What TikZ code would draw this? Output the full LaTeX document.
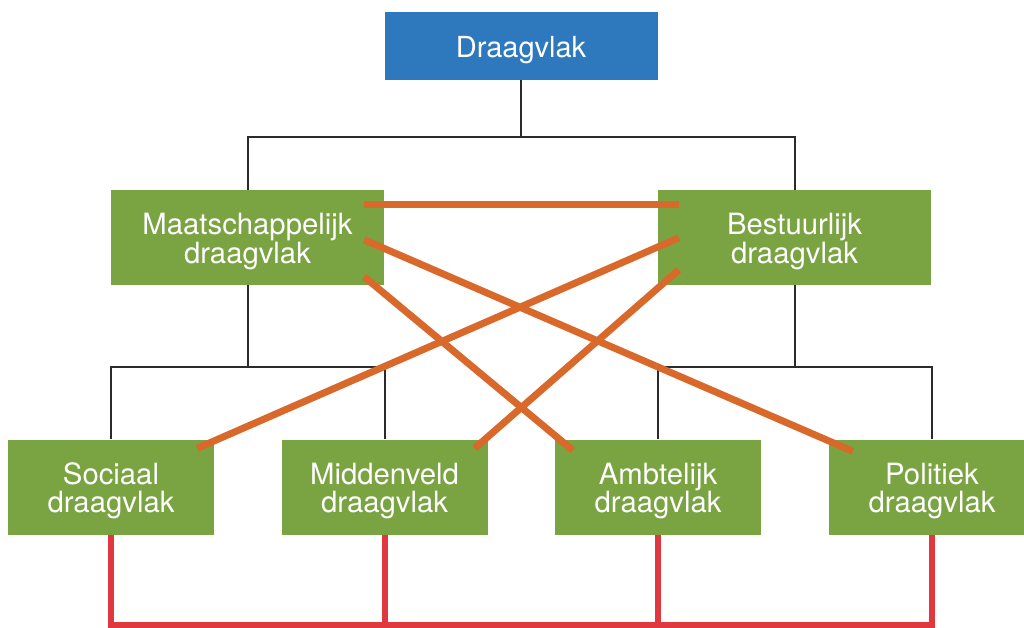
\documentclass[tikz,border=0pt]{standalone}
\usepackage{fontspec}
\setmainfont{TeX Gyre Heros}
\usetikzlibrary{calc}
\definecolor{topblue}{HTML}{2E78BD}
\definecolor{boxgreen}{HTML}{7AA342}
\definecolor{linkorange}{HTML}{D9682B}
\definecolor{basered}{HTML}{E0383E}
\definecolor{treegray}{HTML}{2B2B2B}
\newcommand{\lowerstrut}{\rule{0pt}{29pt}}
\begin{document}
\begin{tikzpicture}[x=1pt,y=-1pt,
  topbox/.style={fill=topblue,text=white,inner sep=0pt,minimum width=273pt,minimum height=68pt,
    font=\fontsize{29}{29}\selectfont,align=center},
  greenbox/.style={fill=boxgreen,text=white,inner sep=0pt,minimum height=95pt,
    font=\fontsize{29.3}{28.5}\selectfont,align=center},
  midbox/.style={greenbox,minimum width=273pt},
  lowbox/.style={greenbox,minimum width=206pt},
  tree/.style={draw=treegray,line width=2pt},
  redlink/.style={draw=basered,line width=6pt,line join=miter},
  orangelink/.style={draw=linkorange,line width=7pt}]
\useasboundingbox (0,0) rectangle (1024,628);
\clip (0,0) rectangle (1024,628);
\fill[white] (0,0) rectangle (1024,628);

\coordinate (j0) at (521,137);
\coordinate (j1) at (247.5,367);
\coordinate (j2) at (794.5,367);
\coordinate (rb) at (0,625);

\path
  (521,46) node[topbox] (top) {\lowerstrut Draagvlak}
  (247.5,237.5) node[midbox] (maat) {\lowerstrut Maatschappelijk\\draagvlak}
  (794.5,237.5) node[midbox] (best) {\lowerstrut Bestuurlijk\\draagvlak}
  (111,487) node[lowbox] (soc) {\lowerstrut Sociaal\\draagvlak}
  (384.5,487) node[lowbox] (mid) {\lowerstrut Middenveld\\draagvlak}
  (658,487) node[lowbox] (amb) {\lowerstrut Ambtelijk\\draagvlak}
  (932,487) node[lowbox] (pol) {\lowerstrut Politiek\\draagvlak};

% tree connectors
\draw[tree] (top.south) -- (j0);
\draw[tree] (maat.north) |- (j0) -| (best.north);
\draw[tree] (maat.south) -- (j1);
\draw[tree] (soc.north) |- (j1) -| (mid.north);
\draw[tree] (best.south) -- (j2);
\draw[tree] (amb.north) |- (j2) -| (pol.north);

% red base connectors
\draw[redlink] (soc.south) -- (soc.south |- rb) -- (pol.south |- rb) -- (pol.south);
\draw[redlink] (mid.south) -- (mid.south |- rb);
\draw[redlink] (amb.south) -- (amb.south |- rb);

% redraw boxes on top of connectors
\path
  (521,46) node[topbox] {\lowerstrut Draagvlak}
  (247.5,237.5) node[midbox] {\lowerstrut Maatschappelijk\\draagvlak}
  (794.5,237.5) node[midbox] {\lowerstrut Bestuurlijk\\draagvlak}
  (111,487) node[lowbox] {\lowerstrut Sociaal\\draagvlak}
  (384.5,487) node[lowbox] {\lowerstrut Middenveld\\draagvlak}
  (658,487) node[lowbox] {\lowerstrut Ambtelijk\\draagvlak}
  (932,487) node[lowbox] {\lowerstrut Politiek\\draagvlak};

% orange cross links
\coordinate (m1) at ($(maat.north east)+(-20,15)$);
\coordinate (m2) at ($(maat.north east)+(-20,50)$);
\coordinate (m3) at ($(maat.north east)+(-20,87)$);
\coordinate (b1) at ($(best.north west)+(21,15)$);
\coordinate (b2) at ($(best.north west)+(21,48)$);
\coordinate (b3) at ($(best.north west)+(21,80)$);
\coordinate (s1) at ($(soc.north east)+(-17,9)$);
\coordinate (d1) at ($(mid.north east)+(-13,9)$);
\coordinate (a1) at ($(amb.north west)+(18,11)$);
\coordinate (p1) at ($(pol.north west)+(24,12)$);
\draw[orangelink] (m1) -- (b1);
\draw[orangelink] (m2) -- (p1);
\draw[orangelink] (m3) -- (a1);
\draw[orangelink] (b2) -- (s1);
\draw[orangelink] (b3) -- (d1);
\end{tikzpicture}
\end{document}
